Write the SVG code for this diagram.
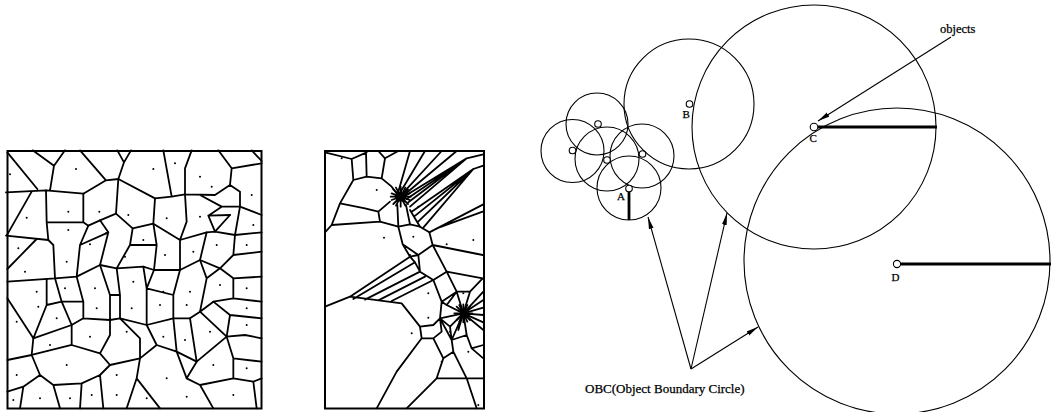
<svg xmlns="http://www.w3.org/2000/svg" width="1053" height="412" viewBox="0 0 1053 412">
<defs>
<style>
.bg{fill:#fff}
.v{fill:none;stroke:#000;stroke-width:1.8;stroke-linejoin:round;stroke-linecap:round;vector-effect:non-scaling-stroke}
.box{fill:none;stroke:#000;stroke-width:2}
.dot{fill:#000}
.c{fill:none;stroke:#000;stroke-width:1.1}
.obj{fill:#fff;stroke:#000;stroke-width:1.1}
.rad{stroke:#000;stroke-width:2.8;fill:none}
.lbl{font-family:"Liberation Serif","Times New Roman",serif;fill:#000;stroke:#000;stroke-width:0.25}
.conn{stroke:#000;stroke-width:1.1;fill:none}
</style>
<marker id="ah" viewBox="0 0 12 6" refX="12" refY="3" markerWidth="12" markerHeight="6" markerUnits="userSpaceOnUse" orient="auto">
<path d="M0,0.6 L12,3 L0,5.4 Z" fill="#000"/>
</marker>
</defs>
<rect class="bg" width="1053" height="412"/>

<g id="voronoi-left">
<rect class="box" x="7.5" y="151" width="254" height="257.5"/>
<g transform="translate(0,145) scale(0.33333)">
<path class="v" d="M22,22 L112,132 M98,16 L162,62 L195,16 M162,62 L150,136 M18,142 L138,136 L250,146 L318,106 L355,102 L465,160 L515,155 L555,148 L645,150 L690,120 L695,70 L655,16 M240,16 L318,106 M352,16 L372,52 L393,16 M372,52 L355,102 M490,16 L515,155 M555,148 L555,70 L575,16 M695,70 L785,55 M755,16 L785,48 M690,120 L720,140 L720,185 L785,210 M600,150 L665,185 M665,185 L720,185 M665,185 L625,212 L690,210 M625,212 L645,260"/>
<path class="v" d="M95,140 L22,268 M138,136 L140,232 L145,285 M140,232 L250,232 L250,146 M250,232 L265,242 L300,226 L348,206 L355,102 M18,272 L145,285 M348,206 L398,250 L460,236 L465,160 M460,236 L540,285 L620,262 L645,260 L705,270 L785,262 M555,148 L560,230 L540,285 M705,270 L720,185 M645,260 L690,210"/>
<path class="v" d="M145,285 L160,300 L165,400 M22,372 L110,282 M22,410 L165,400 M265,242 L240,300 L230,395 M240,300 L325,262 M300,226 L325,262 L300,360 M398,250 L390,300 L350,370 M390,300 L470,300 M460,236 L470,300 L462,375 M540,285 L540,375 M620,262 L600,345 M705,270 L700,330 L660,370 M700,330 L785,320 M165,400 L230,395 L300,360 L350,370 L430,365 L462,375 L540,375 L600,345 L660,370 L700,400 L785,395"/>
<path class="v" d="M22,460 L100,580 M140,402 L140,480 L100,580 M140,480 L185,470 L250,470 M165,400 L185,470 L215,540 M230,395 L250,470 L250,520 M300,360 L330,450 L330,525 M350,370 L360,450 L360,520 M330,450 L360,450 M430,365 L440,430 L440,540 M462,375 L440,430 M540,375 L520,450 L520,520 M440,430 L520,450 M600,345 L620,400 L600,500 M620,400 L660,370 M700,400 L700,460 M100,580 L215,540 L250,520 L330,525 L360,520 L440,540 L520,520 L570,520 L600,500 L640,470 L700,460 L785,470"/>
<path class="v" d="M100,580 L95,630 M215,540 L215,600 M330,525 L330,570 L300,625 M360,520 L420,580 L420,640 M440,540 L470,600 M520,520 L530,620 M570,520 L590,650 M600,500 L680,575 M640,470 L690,510 L680,575 M690,510 L785,520 M22,645 L95,630 L215,600 L300,625 L330,660 L420,640 L470,600 L530,620 L590,650 L680,575 L735,570 L785,580"/>
<path class="v" d="M95,630 L120,690 L160,720 L180,790 M22,740 L70,725 L120,690 M70,725 L60,790 M160,720 L245,715 L300,690 L330,660 M245,715 L240,790 M300,690 L310,790 M420,640 L410,700 L480,790 M410,700 L380,790 M530,620 L560,700 L600,720 L640,790 M590,650 L560,700 M600,720 L700,700 L760,710 L785,700 M680,575 L700,640 L700,700 M700,640 L785,650 M760,710 L770,790"/>
<g class="dot">
<circle cx="30" cy="88" r="3"/><circle cx="228" cy="72" r="3"/><circle cx="460" cy="72" r="3"/><circle cx="525" cy="55" r="3"/><circle cx="635" cy="125" r="3"/><circle cx="755" cy="150" r="3"/><circle cx="80" cy="218" r="3"/><circle cx="205" cy="200" r="3"/><circle cx="298" cy="200" r="3"/><circle cx="385" cy="210" r="3"/><circle cx="205" cy="255" r="3"/><circle cx="600" cy="95" r="3"/><circle cx="500" cy="220" r="3"/><circle cx="600" cy="215" r="3"/><circle cx="760" cy="240" r="3"/><circle cx="55" cy="310" r="3"/><circle cx="200" cy="350" r="3"/><circle cx="270" cy="298" r="3"/><circle cx="318" cy="265" r="3"/><circle cx="430" cy="285" r="3"/><circle cx="495" cy="330" r="3"/><circle cx="580" cy="320" r="3"/><circle cx="650" cy="300" r="3"/><circle cx="740" cy="300" r="3"/><circle cx="75" cy="380" r="3"/><circle cx="375" cy="335" r="3"/><circle cx="110" cy="440" r="3"/><circle cx="115" cy="485" r="3"/><circle cx="195" cy="430" r="3"/><circle cx="285" cy="430" r="3"/><circle cx="400" cy="410" r="3"/><circle cx="490" cy="440" r="3"/><circle cx="570" cy="440" r="3"/><circle cx="660" cy="420" r="3"/><circle cx="740" cy="430" r="3"/><circle cx="50" cy="530" r="3"/><circle cx="170" cy="520" r="3"/><circle cx="290" cy="490" r="3"/><circle cx="395" cy="490" r="3"/><circle cx="480" cy="480" r="3"/><circle cx="560" cy="480" r="3"/><circle cx="740" cy="490" r="3"/><circle cx="150" cy="600" r="3"/><circle cx="270" cy="575" r="3"/><circle cx="380" cy="560" r="3"/><circle cx="490" cy="575" r="3"/><circle cx="555" cy="585" r="3"/><circle cx="630" cy="560" r="3"/><circle cx="740" cy="540" r="3"/><circle cx="50" cy="690" r="3"/><circle cx="200" cy="660" r="3"/><circle cx="350" cy="690" r="3"/><circle cx="500" cy="700" r="3"/><circle cx="640" cy="660" r="3"/><circle cx="740" cy="670" r="3"/><circle cx="40" cy="765" r="3"/><circle cx="120" cy="760" r="3"/><circle cx="210" cy="760" r="3"/><circle cx="275" cy="750" r="3"/><circle cx="350" cy="750" r="3"/><circle cx="440" cy="760" r="3"/><circle cx="560" cy="755" r="3"/><circle cx="700" cy="750" r="3"/>
</g>
</g>
</g>

<g id="voronoi-right">
<rect class="box" x="325" y="151" width="159" height="257.5"/>
<g transform="translate(310,145) scale(0.33333)">
<path class="v" d="M45,22 L125,42 L170,22 M125,42 L130,105 L90,175 L65,240 L45,262 M90,175 L165,190 L205,200 M130,105 L170,95 L215,100 M170,95 L168,20 M215,100 L225,40 L205,18 M225,40 L265,18 M215,100 L245,125 L262,148 M205,200 L240,170 M65,240 L210,230 L265,245 M210,230 L205,200"/>
<path class="v" d="M265,140 L300,18 M272,140 L345,18 M278,145 L395,18 M282,150 L440,18 M286,152 L470,40 M290,162 L470,40 M295,172 L470,40 M300,185 L470,40 M305,200 L490,72 M312,215 L490,72 M322,232 L490,72 M338,250 L490,72 M470,40 L520,28 M490,72 L520,62 M265,245 L262,180 M300,238 L288,180 M330,245 L300,195 M358,262 L520,178 M380,250 L518,200"/>
<path class="v" d="M265,245 L300,238 L330,245 L358,262 L368,300 L325,330 L278,298 Z M278,298 L300,335 L325,330 M368,300 L518,330 M325,330 L330,380 L370,405 L410,380 L368,300 M300,335 L120,455 L45,485 M130,462 L315,352 M165,464 L330,380 M205,466 L345,395 M245,468 L370,405 M120,455 L275,475 L330,545 L335,580 L260,680 L200,790 M315,352 L300,335 M330,380 L315,352"/>
<path class="v" d="M410,380 L440,440 L460,505 M370,405 L395,470 L440,440 M395,470 L390,520 L460,505 M330,545 L370,540 L390,520 M390,520 L425,585 L460,505 M425,585 L470,570 L460,505 M335,580 L370,580 L400,640 L430,620 L425,585 M440,440 L480,440 L460,505 M410,480 L460,505 M410,480 L395,470 M410,480 L440,440 M420,545 L460,505 M420,545 L390,520 M420,545 L425,585 M445,555 L460,505 M460,505 L520,440 M460,505 L520,465 M460,505 L520,488 M460,505 L520,510 M460,505 L520,532 M460,505 L520,555 M460,505 L480,440 M480,440 L518,400 M470,570 L485,610 L520,640 M485,610 L520,600 M430,620 L470,700 L520,700 M470,700 L500,790 M400,640 L380,700 L290,790 M380,700 L470,700 M410,380 L518,400 M370,580 L395,560 L390,520"/>
<path class="v" d="M272,125 L272,185 M242,155 L302,155 M250,133 L294,177 M250,177 L294,133 M258,128 L286,182 M286,128 L258,182 M245,145 L299,165 M245,165 L299,145 M460,478 L460,532 M433,505 L487,505 M440,485 L480,525 M440,525 L480,485 M448,480 L472,530 M472,480 L448,530"/>
<ellipse cx="272" cy="155" rx="17" ry="15" fill="#000"/>
<ellipse cx="460" cy="505" rx="10" ry="9" fill="#000"/>
<g class="dot">
<circle cx="95" cy="40" r="3"/><circle cx="200" cy="135" r="3"/><circle cx="222" cy="278" r="3"/><circle cx="310" cy="275" r="3"/><circle cx="325" cy="185" r="3"/><circle cx="410" cy="298" r="3"/><circle cx="300" cy="330" r="3"/><circle cx="355" cy="445" r="3"/><circle cx="355" cy="518" r="3"/><circle cx="305" cy="565" r="3"/><circle cx="420" cy="560" r="3"/><circle cx="395" cy="650" r="3"/><circle cx="505" cy="780" r="3"/><circle cx="460" cy="445" r="3"/><circle cx="475" cy="620" r="3"/><circle cx="490" cy="285" r="3"/>
</g>
</g>
</g>

<g id="obc-small">
<circle class="c" cx="597" cy="124" r="31"/>
<circle class="c" cx="572.5" cy="151" r="31.5"/>
<circle class="c" cx="607" cy="159" r="32"/>
<circle class="c" cx="642" cy="156" r="32"/>
<circle class="c" cx="629" cy="188" r="32"/>
<circle class="obj" cx="598" cy="124" r="3.3"/>
<circle class="obj" cx="572.5" cy="150.5" r="3.3"/>
<circle class="obj" cx="607" cy="160" r="3.3"/>
<circle class="obj" cx="642.5" cy="154" r="3.3"/>
</g>
<g id="obc-A">
<line class="rad" x1="629" y1="192" x2="629" y2="220"/>
<circle class="obj" cx="629" cy="188.5" r="3.3"/>
<text class="lbl" x="617" y="200" font-size="11">A</text>
</g>
<g id="obc-B">
<circle class="c" cx="689" cy="104" r="65"/>
<circle class="obj" cx="689.5" cy="104" r="3.3"/>
<text class="lbl" x="682.5" y="118" font-size="11">B</text>
</g>
<g id="obc-C">
<circle class="c" cx="814" cy="127" r="122"/>
<line class="rad" x1="818" y1="127" x2="937" y2="127"/>
<circle class="obj" cx="814" cy="127" r="3.8"/>
<text class="lbl" x="809.5" y="142" font-size="11">C</text>
</g>
<g id="obc-D">
<circle class="c" cx="897" cy="261" r="153"/>
<line class="rad" x1="901" y1="264" x2="1051" y2="264"/>
<circle class="obj" cx="897" cy="264" r="3.6"/>
<text class="lbl" x="891.5" y="281" font-size="11">D</text>
</g>

<g id="connectors">
<line class="conn" x1="951" y1="37" x2="818" y2="121" marker-end="url(#ah)"/>
<line class="conn" x1="691" y1="369" x2="648" y2="217" marker-end="url(#ah)"/>
<line class="conn" x1="691" y1="369" x2="727" y2="213" marker-end="url(#ah)"/>
<line class="conn" x1="691" y1="369" x2="758" y2="327" marker-end="url(#ah)"/>
</g>

<g id="labels">
<text class="lbl" x="940" y="33" font-size="12.5">objects</text>
<text class="lbl" x="585" y="393" font-size="13">OBC(Object Boundary Circle)</text>
</g>
</svg>
